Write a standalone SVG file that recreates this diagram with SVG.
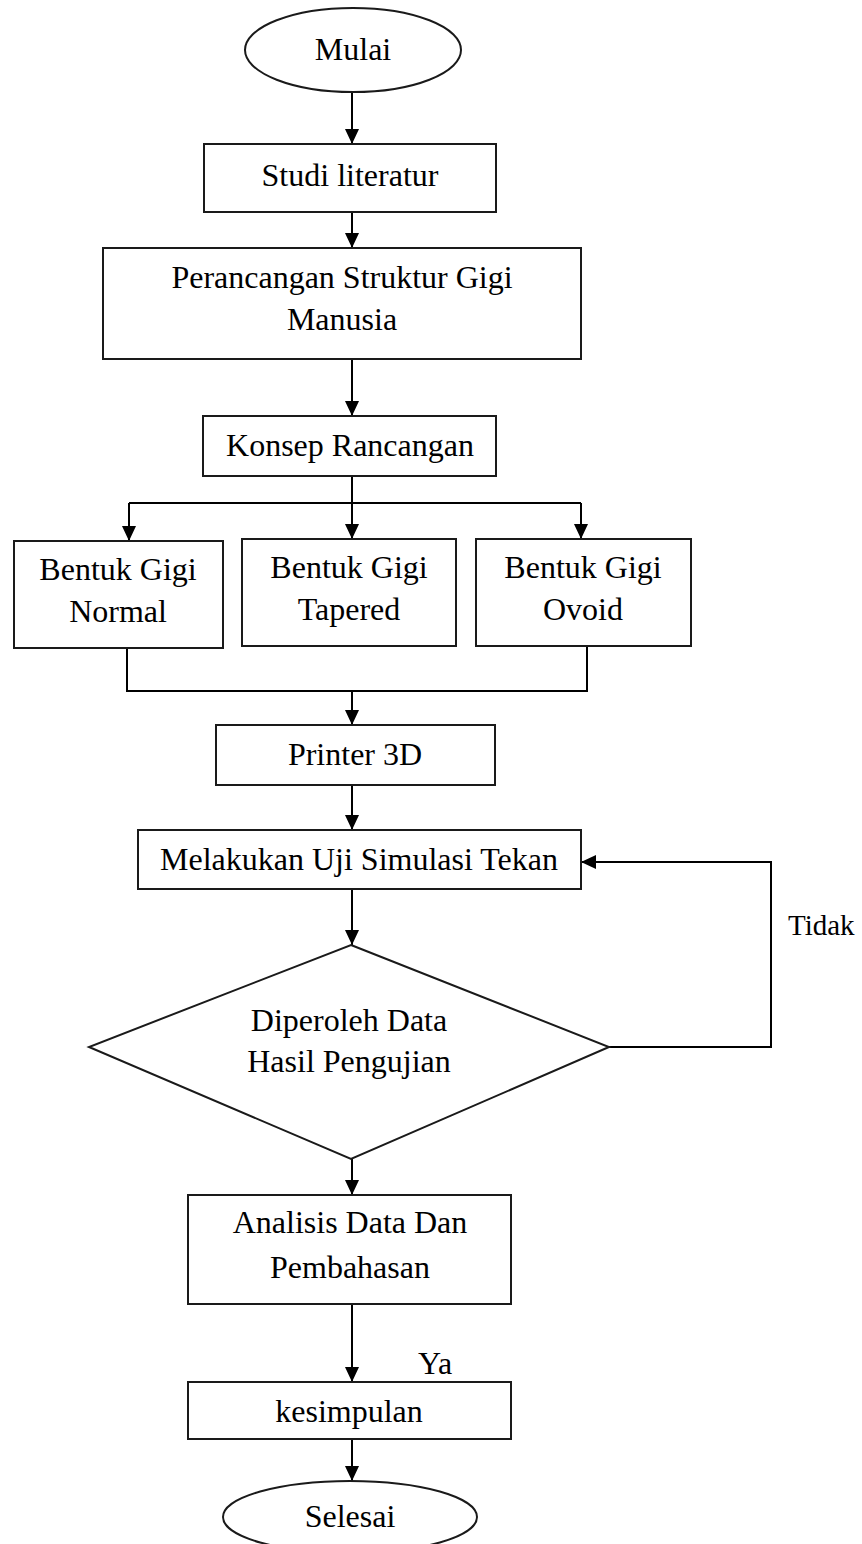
<svg xmlns="http://www.w3.org/2000/svg" width="862" height="1544" viewBox="0 0 862 1544">
  <defs>
    <style>
      .box { fill: #fff; stroke: #1a1a1a; stroke-width: 2; }
      .wire { fill: none; stroke: #000; stroke-width: 2; }
      .arrow { fill: none; stroke: #000; stroke-width: 2; marker-end: url(#head); }
      .t { font-family: "Liberation Serif", "Times New Roman", serif; font-size: 32px; fill: #000; text-anchor: middle; }
      .lbl { font-family: "Liberation Serif", "Times New Roman", serif; fill: #000; }
    </style>
    <marker id="head" markerUnits="userSpaceOnUse" markerWidth="16" markerHeight="14" refX="15" refY="7" orient="auto">
      <path d="M0,0 L15,7 L0,14 Z" fill="#000"/>
    </marker>
  </defs>

  <rect width="862" height="1544" fill="#fff"/>

  <!-- connectors -->
  <g id="connectors">
    <path class="arrow" d="M352,92 V144"/>
    <path class="arrow" d="M352,212 V248"/>
    <path class="arrow" d="M352,359 V416"/>
    <path class="arrow" d="M352,476 V539"/>
    <path class="wire" d="M129,503 H581"/>
    <path class="arrow" d="M129,503 V541"/>
    <path class="arrow" d="M581,503 V539"/>
    <path class="wire" d="M127,648 V691 H587 V646"/>
    <path class="arrow" d="M352,691 V725"/>
    <path class="arrow" d="M352,785 V830"/>
    <path class="arrow" d="M352,889 V945"/>
    <path class="arrow" d="M609,1047 H771 V862 H581"/>
    <path class="arrow" d="M352,1159 V1195"/>
    <path class="arrow" d="M352,1304 V1382"/>
    <path class="arrow" d="M352,1439 V1481"/>
    <text class="lbl" x="788" y="935" font-size="29">Tidak</text>
    <text class="lbl" x="418" y="1374" font-size="32">Ya</text>
  </g>

  <!-- nodes -->
  <g id="mulai">
    <ellipse class="box" cx="353" cy="50" rx="108" ry="42"/>
    <text class="t" x="353" y="60">Mulai</text>
  </g>
  <g id="studi-literatur">
    <rect class="box" x="204" y="144" width="292" height="68"/>
    <text class="t" x="350" y="186">Studi literatur</text>
  </g>
  <g id="perancangan">
    <rect class="box" x="103" y="248" width="478" height="111"/>
    <text class="t" x="342" y="288">Perancangan Struktur Gigi</text>
    <text class="t" x="342" y="330">Manusia</text>
  </g>
  <g id="konsep">
    <rect class="box" x="203" y="416" width="293" height="60"/>
    <text class="t" x="350" y="456">Konsep Rancangan</text>
  </g>
  <g id="normal">
    <rect class="box" x="14" y="541" width="209" height="107"/>
    <text class="t" x="118" y="580">Bentuk Gigi</text>
    <text class="t" x="118" y="622">Normal</text>
  </g>
  <g id="tapered">
    <rect class="box" x="242" y="539" width="214" height="107"/>
    <text class="t" x="349" y="578">Bentuk Gigi</text>
    <text class="t" x="349" y="620">Tapered</text>
  </g>
  <g id="ovoid">
    <rect class="box" x="476" y="539" width="215" height="107"/>
    <text class="t" x="583" y="578">Bentuk Gigi</text>
    <text class="t" x="583" y="620">Ovoid</text>
  </g>
  <g id="printer">
    <rect class="box" x="216" y="725" width="279" height="60"/>
    <text class="t" x="355" y="765">Printer 3D</text>
  </g>
  <g id="uji-simulasi">
    <rect class="box" x="138" y="830" width="443" height="59"/>
    <text class="t" x="359" y="870">Melakukan Uji Simulasi Tekan</text>
  </g>
  <g id="keputusan">
    <polygon class="box" points="351,945 609,1047 351,1159 89,1047"/>
    <text class="t" x="349" y="1031">Diperoleh Data</text>
    <text class="t" x="349" y="1072">Hasil Pengujian</text>
  </g>
  <g id="analisis">
    <rect class="box" x="188" y="1195" width="323" height="109"/>
    <text class="t" x="350" y="1233">Analisis Data Dan</text>
    <text class="t" x="350" y="1278">Pembahasan</text>
  </g>
  <g id="kesimpulan">
    <rect class="box" x="188" y="1382" width="323" height="57"/>
    <text class="t" x="349" y="1422">kesimpulan</text>
  </g>
  <g id="selesai">
    <ellipse class="box" cx="350" cy="1517" rx="127" ry="36"/>
    <text class="t" x="350" y="1527">Selesai</text>
  </g>
</svg>
